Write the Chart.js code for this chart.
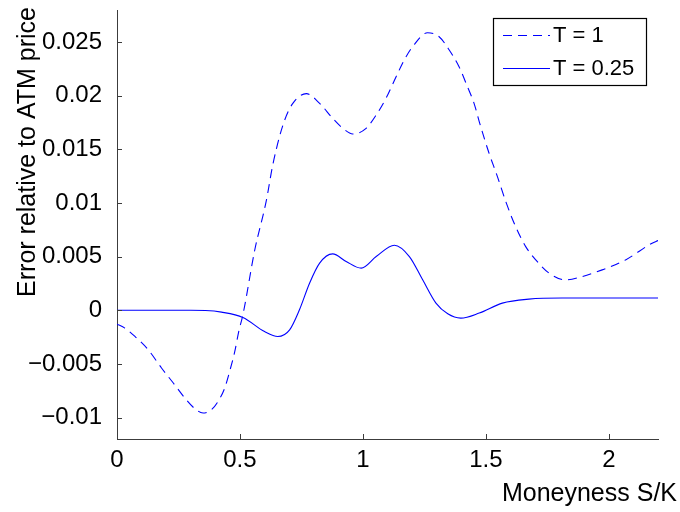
<!DOCTYPE html>
<html><head><meta charset="utf-8">
<script src="https://cdn.jsdelivr.net/npm/chart.js@4"></script>
<style>html,body{margin:0;padding:0;background:#fff}#wrap{width:680px;height:512px}</style>
</head><body><div id="wrap"><canvas id="c" width="680" height="512"></canvas></div>
<script>
const seriesLabels = ['T = 1', 'T = 0.25'];
const xT1 = [0, 0.032, 0.073, 0.127, 0.181, 0.229, 0.276, 0.317, 0.35, 0.384, 0.411, 0.438, 0.458, 0.479, 0.495, 0.512, 0.56, 0.607, 0.633, 0.661, 0.682, 0.715, 0.77, 0.824, 0.877, 0.918, 0.959, 1.013, 1.054, 1.094, 1.135, 1.168, 1.202, 1.263, 1.31, 1.351, 1.391, 1.425, 1.452, 1.473, 1.513, 1.547, 1.581, 1.621, 1.662, 1.703, 1.757, 1.824, 1.892, 1.973, 2.068, 2.176, 2.2];
const yT1 = [-0.00129, -0.00166, -0.00244, -0.00368, -0.00538, -0.00678, -0.00818, -0.00918, -0.00958, -0.00927, -0.0085, -0.00725, -0.0057, -0.00384, -0.00198, -0.00042, 0.0056, 0.0102, 0.0135, 0.0162, 0.01775, 0.0193, 0.0202, 0.0193, 0.0179, 0.01697, 0.01644, 0.01697, 0.01821, 0.01977, 0.02178, 0.02334, 0.02458, 0.02588, 0.02551, 0.02427, 0.02271, 0.02085, 0.0193, 0.0176, 0.01464, 0.01247, 0.01014, 0.0078, 0.00594, 0.0047, 0.00347, 0.00284, 0.00315, 0.00377, 0.0047, 0.00626, 0.0065];
const xT025 = [0, 0.1, 0.2, 0.3, 0.36, 0.425, 0.512, 0.6, 0.654, 0.702, 0.742, 0.783, 0.824, 0.877, 0.932, 0.993, 1.054, 1.128, 1.189, 1.243, 1.297, 1.345, 1.398, 1.473, 1.567, 1.675, 1.81, 2.0, 2.2];
const yT025 = [0, 0, 0, 0, -0.00002, -0.00017, -0.00067, -0.00198, -0.00244, -0.00182, 0.00005, 0.00253, 0.0044, 0.00526, 0.00455, 0.00393, 0.00501, 0.00607, 0.00501, 0.00284, 0.00067, -0.00033, -0.00073, -0.00026, 0.00067, 0.00104, 0.00114, 0.00114, 0.00114];
const xTicks = [0, 0.5, 1, 1.5, 2];
const xTickLabels = ['0', '0.5', '1', '1.5', '2'];
const yTicks = [-0.01, -0.005, 0, 0.005, 0.01, 0.015, 0.02, 0.025];
const yTickLabels = ['\u22120.01', '\u22120.005', '0', '0.005', '0.01', '0.015', '0.02', '0.025'];
const xTitle = 'Moneyness S/K';
const yTitle = 'Error relative to ATM price';

const FONT = 'Liberation Sans, Arial, Helvetica, sans-serif';
const AXIS = '#3c3c3c';
const BLUE = 'rgb(0,0,255)';

const toPts = (xs, ys) => xs.map((x, i) => ({x: x, y: ys[i]}));

const decor = {
  id: 'decor',
  afterDraw(chart) {
    const ctx = chart.ctx, xs = chart.scales.x, ys = chart.scales.y, a = chart.chartArea;
    ctx.save();
    ctx.strokeStyle = AXIS; ctx.lineWidth = 1;
    ctx.beginPath();
    xTicks.forEach(v => { const p = Math.round(xs.getPixelForValue(v)) + 0.5; ctx.moveTo(p, a.bottom); ctx.lineTo(p, a.bottom - 5); });
    yTicks.forEach(v => { const p = Math.round(ys.getPixelForValue(v)) + 0.5; ctx.moveTo(a.left, p); ctx.lineTo(a.left + 5, p); });
    ctx.stroke();
    ctx.fillStyle = '#000';
    ctx.font = '25px ' + FONT;
    ctx.textAlign = 'right'; ctx.textBaseline = 'alphabetic';
    ctx.fillText(xTitle, 677, 501);
    ctx.save();
    ctx.translate(35, 152);
    ctx.rotate(-Math.PI / 2);
    ctx.textAlign = 'center';
    ctx.fillText(yTitle, 0, 0);
    ctx.restore();
    const bx = 493.5, by = 18.5, bw = 153, bh = 67;
    ctx.fillStyle = '#fff'; ctx.fillRect(bx, by, bw, bh);
    ctx.strokeStyle = '#000'; ctx.lineWidth = 1.2; ctx.strokeRect(bx, by, bw, bh);
    const rows = [35, 68];
    chart.data.datasets.forEach((ds, i) => {
      ctx.strokeStyle = ds.borderColor; ctx.lineWidth = ds.borderWidth;
      ctx.setLineDash(ds.borderDash || []);
      ctx.beginPath(); ctx.moveTo(503, rows[i] + 0.5); ctx.lineTo(550, rows[i] + 0.5); ctx.stroke();
      ctx.setLineDash([]);
      ctx.fillStyle = '#000'; ctx.font = '22px ' + FONT;
      ctx.textAlign = 'left'; ctx.textBaseline = 'middle';
      ctx.fillText(ds.label, 553, rows[i] + 1);
    });
    ctx.restore();
  }
};

new Chart(document.getElementById('c'), {
  type: 'line',
  data: {
    datasets: [
      {label: seriesLabels[0], data: toPts(xT1, yT1), borderColor: BLUE, borderWidth: 1.1, borderDash: [9, 6], pointRadius: 0, cubicInterpolationMode: 'monotone', fill: false},
      {label: seriesLabels[1], data: toPts(xT025, yT025), borderColor: BLUE, borderWidth: 1.1, pointRadius: 0, cubicInterpolationMode: 'monotone', fill: false}
    ]
  },
  options: {
    responsive: false, animation: false, devicePixelRatio: 1,
    layout: {padding: {left: 0, top: 10, right: 22, bottom: 0}},
    plugins: {legend: {display: false}, tooltip: {enabled: false}},
    scales: {
      x: {
        type: 'linear', min: 0, max: 2.2,
        afterFit: s => { s.height = 73; s.paddingLeft = 0; s.paddingRight = 0; },
        afterBuildTicks: s => { s.ticks = xTicks.map(v => ({value: v})); },
        grid: {display: false},
        border: {display: true, color: AXIS, width: 1},
        ticks: {color: '#000', font: {family: FONT, size: 24}, padding: -1, maxRotation: 0,
          callback: (v) => { const i = xTicks.indexOf(v); return i >= 0 ? xTickLabels[i] : ''; }}
      },
      y: {
        type: 'linear', min: -0.012, max: 0.028,
        afterFit: s => { s.width = 117; s.paddingTop = 0; s.paddingBottom = 0; },
        afterBuildTicks: s => { s.ticks = yTicks.map(v => ({value: v})); },
        grid: {display: false},
        border: {display: true, color: AXIS, width: 1},
        ticks: {color: '#000', font: {family: FONT, size: 24}, padding: 7,
          callback: (v) => { const i = yTicks.findIndex(t => Math.abs(t - v) < 1e-9); return i >= 0 ? yTickLabels[i] : ''; }}
      }
    }
  },
  plugins: [decor]
});
</script></body></html>
